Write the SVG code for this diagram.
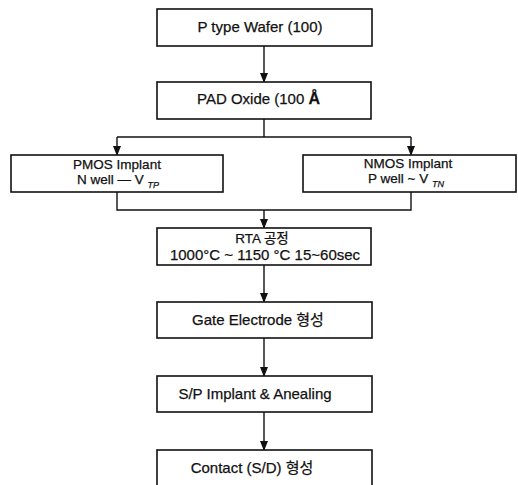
<svg xmlns="http://www.w3.org/2000/svg" width="518" height="485" viewBox="0 0 518 485">
<style>
.box{fill:#fff;stroke:#111;stroke-width:1.6}
.t{font-family:"Liberation Sans","Noto Sans CJK KR",Arial,sans-serif;font-size:15px;fill:#111;stroke:#111;stroke-width:0.25}
.s{font-size:13.5px}
.c{text-anchor:middle}
.sub{font-size:9px;font-style:italic}
.ln{fill:none;stroke:#111;stroke-width:1.4}
</style>
<defs>
<marker id="ah" markerWidth="10" markerHeight="10" refX="9" refY="5" orient="auto" markerUnits="userSpaceOnUse">
<path d="M0,1 L10,5 L0,9 Z" fill="#111"/>
</marker>
</defs>
<rect width="518" height="485" fill="#fff"/>
<g id="connectors">
<line class="ln" x1="264" y1="46" x2="264" y2="82" marker-end="url(#ah)"/>
<polyline class="ln" points="264,119 264,137"/>
<polyline class="ln" points="117,137 411,137"/>
<line class="ln" x1="117" y1="137" x2="117" y2="155" marker-end="url(#ah)"/>
<line class="ln" x1="411" y1="137" x2="411" y2="155" marker-end="url(#ah)"/>
<polyline class="ln" points="117,192 117,210 411,210 411,192"/>
<line class="ln" x1="264" y1="210" x2="264" y2="228" marker-end="url(#ah)"/>
<line class="ln" x1="264" y1="265" x2="264" y2="302" marker-end="url(#ah)"/>
<line class="ln" x1="264" y1="338" x2="264" y2="376" marker-end="url(#ah)"/>
<line class="ln" x1="264" y1="412" x2="264" y2="450" marker-end="url(#ah)"/>
</g>
<g id="wafer">
<rect class="box" x="157" y="9" width="215" height="37"/>
<text class="t c" x="260" y="32">P type Wafer (100)</text>
</g>
<g id="pad">
<rect class="box" x="157" y="82" width="214" height="37"/>
<text class="t" x="197" y="104">PAD Oxide (100 <tspan font-weight="bold" font-size="16px">Å</tspan></text>
</g>
<g id="pmos">
<rect class="box" x="11" y="155" width="212" height="37"/>
<text class="t s c" x="117" y="169">PMOS Implant</text>
<text class="t s" x="77" y="184">N well — V <tspan class="sub" dy="4">TP</tspan></text>
</g>
<g id="nmos">
<rect class="box" x="303" y="155" width="213" height="37"/>
<text class="t s c" x="408" y="168">NMOS Implant</text>
<text class="t s" x="368" y="183">P well ~ V <tspan class="sub" dy="4">TN</tspan></text>
</g>
<g id="rta">
<rect class="box" x="157" y="228" width="214" height="37"/>
<text class="t s c" x="262" y="243">RTA 공정</text>
<text class="t c" x="265" y="260">1000°C ~ 1150 °C 15~60sec</text>
</g>
<g id="gate">
<rect class="box" x="157" y="302" width="215" height="36"/>
<text class="t c" x="258" y="325">Gate Electrode 형성</text>
</g>
<g id="sp">
<rect class="box" x="157" y="376" width="215" height="36"/>
<text class="t c" x="255" y="399">S/P Implant &amp; Anealing</text>
</g>
<g id="contact">
<rect class="box" x="157" y="450" width="215" height="40"/>
<text class="t c" x="252" y="473">Contact (S/D) 형성</text>
</g>
</svg>
